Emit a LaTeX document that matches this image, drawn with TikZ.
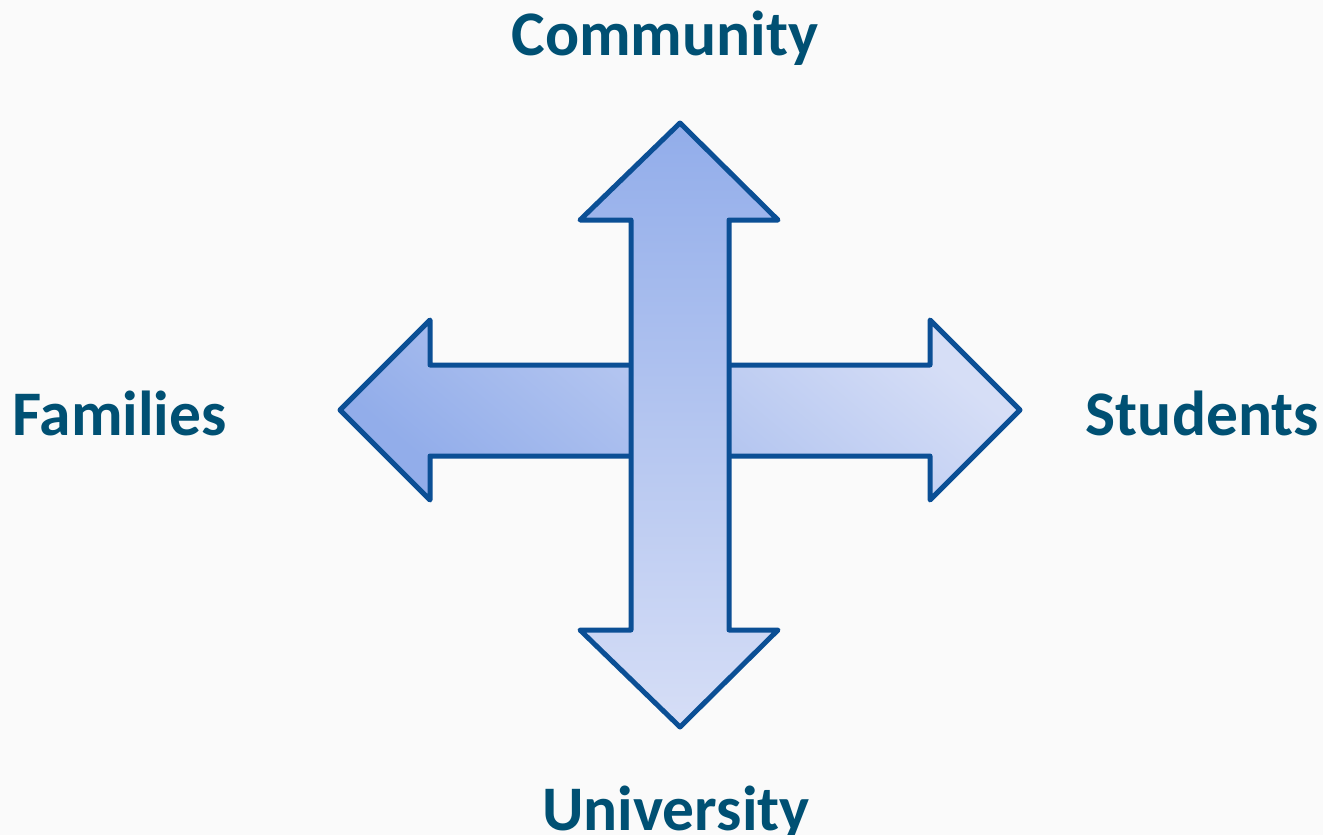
\documentclass[tikz,border=0pt]{standalone}
\usepackage{fontspec}
\setmainfont{Carlito}
\definecolor{bgc}{HTML}{FAFAFA}
\definecolor{edgec}{HTML}{0B4F95}
\definecolor{txtc}{HTML}{005073}
\definecolor{darkfill}{HTML}{92ADEA}
\definecolor{lightfill}{HTML}{D6DEF6}
\tikzset{
  label text/.style={font=\bfseries\fontsize{63.5}{64}\selectfont, text=txtc, inner sep=0pt},
  arrow shape/.style={draw=edgec, line width=5pt, line join=round},
}
\begin{document}
\begin{tikzpicture}[x=1pt,y=-1pt]
\fill[bgc] (0,0) rectangle (1323,835);
\useasboundingbox (0,0) rectangle (1323,835);
% horizontal double arrow (behind)
\path[arrow shape, shading=axis, bottom color=darkfill, top color=lightfill, shading angle=-40]
  (340,410) -- (430,320) -- (430,365) -- (930,365) -- (930,320) -- (1020,410)
  -- (930,500) -- (930,456) -- (430,456) -- (430,500) -- cycle;
% vertical double arrow (front)
\path[arrow shape, top color=darkfill, bottom color=lightfill]
  (680,123) -- (778,220) -- (729,220) -- (729,630) -- (778,630) -- (680,727)
  -- (580,630) -- (631,630) -- (631,220) -- (580,220) -- cycle;
\node[label text, anchor=base] (community) at (665,55) {Community};
\node[label text, anchor=base west] (families) at (12,435) {Families};
\node[label text, anchor=base east] (students) at (1319,435) {Students};
\node[label text, anchor=base] (university) at (676,830) {University};
\end{tikzpicture}
\end{document}
